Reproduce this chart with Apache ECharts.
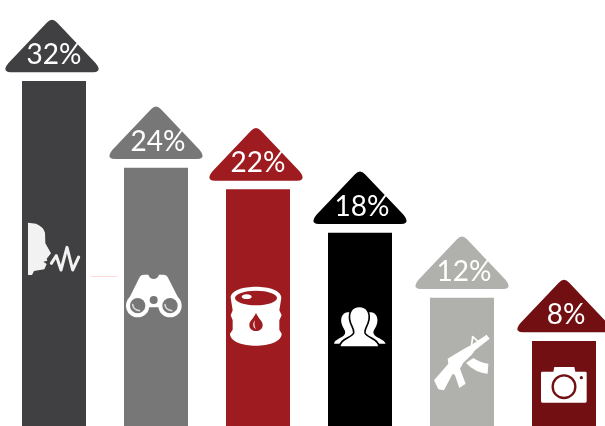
<!DOCTYPE html>
<html>
<head>
<meta charset="utf-8">
<style>html,body{margin:0;padding:0;background:#fff}#chart{width:605px;height:426px}</style>
<script src="https://cdn.jsdelivr.net/npm/echarts@6/dist/echarts.min.js"></script>
</head>
<body>
<div id="chart"></div>
<script>
// Share of each concern, in percent
const categories = ['Speech', 'Surveillance', 'Oil', 'People', 'Weapons', 'Media'];
const shares = [32, 24, 22, 18, 12, 8];
const barColors = ['#404042', '#777777', '#9e1b20', '#000000', '#b0b0ac', '#720f12'];

const WHITE = '#ffffff';
const capPath = 'M-5,-58.5 Q0,-64 5,-58.5 L43.5,-18 Q48,-12.5 46,-10.2 Q44.5,-8.7 41,-8.7 L-41,-8.7 Q-44.5,-8.7 -46,-10.2 Q-48,-12.5 -43.5,-18 Z';

function fillPath(d, fill) { return { type: 'path', shape: { pathData: d }, style: { fill: fill } }; }
function strokePath(d, stroke, w) {
  return { type: 'path', shape: { pathData: d }, style: { fill: 'none', stroke: stroke, lineWidth: w, lineJoin: 'round', lineCap: 'round' } };
}
function disc(cx, cy, r, fill) { return { type: 'circle', shape: { cx: cx, cy: cy, r: r }, style: { fill: fill } }; }
function oval(cx, cy, rx, ry, fill) { return { type: 'ellipse', shape: { cx: cx, cy: cy, rx: rx, ry: ry }, style: { fill: fill } }; }

// Pictograms are authored at 3x and placed relative to the top centre of their bar
const icons = [
  { dx: -44, dy: 129, draw: () => [
    fillPath('M54,38 L78,41 Q100,50 105,68 L106,100 L123,130 L110,146 L112,152 L100,155 L110,162 L103,178 L72,183 L66,195 L54,195 Z', '#f2f2f2'),
    strokePath('M124,160 L139,137 L153,180 L171,112 L188,180 L206,141', '#f2f2f2', 9)
  ]},
  { dx: -146, dy: 43, draw: (c) => [
    fillPath('M350,278 L388,201 Q392,192 402,192 L415,192 Q420,205 431,205 Q442,205 447,192 L460,192 Q470,192 474,201 L513,278 L447,290 L415,290 Z', WHITE),
    disc(383, 285, 35, WHITE), disc(480, 285, 35, WHITE),
    disc(383, 285, 23, c), disc(480, 285, 23, c),
    strokePath('M368,282 Q370,298 388,300', '#d8d8d8', 5),
    strokePath('M465,282 Q467,298 485,300', '#d8d8d8', 5),
    disc(431, 268, 12, c)
  ]},
  { dx: -48, dy: 81, draw: (c) => [
    fillPath('M62,82 C62,38 214,38 214,82 L208,120 L215,135 L208,150 L208,178 L215,190 C215,238 60,238 60,190 L68,178 L68,150 L62,135 L68,120 Z', WHITE),
    oval(138, 83, 63, 22, c), oval(110, 79, 15, 7, WHITE),
    fillPath('M138,128 C146,146 158,152 158,164 C158,188 118,188 118,164 C118,152 130,146 138,128 Z', c),
    fillPath('M134,150 C128,160 128,172 138,176 C132,168 133,160 134,150 Z', WHITE)
  ]},
  { dx: -150, dy: 37, draw: (c) => [
    fillPath('M412,128 C395,130 390,150 396,165 C400,178 408,182 405,192 C400,205 373,208 372,222 L440,222 L440,128 Z', WHITE),
    fillPath('M484,128 C501,130 506,150 500,165 C496,178 488,182 491,192 C496,205 523,208 527,222 L456,222 L456,128 Z', WHITE),
    { type: 'path', shape: { pathData: 'M448,110 C472,110 480,130 477,150 C474,170 462,178 465,190 C472,205 507,208 507,232 L389,232 C389,208 424,205 431,190 C434,178 422,170 419,150 C416,130 424,110 448,110 Z' }, style: { fill: WHITE, stroke: c, lineWidth: 5 } }
  ]},
  { dx: -42, dy: 21, draw: (c) => [
    fillPath('M200,48 L209,60 L165,95 L155,108 L130,132 L120,150 L137,195 L118,208 L105,170 L98,165 L72,215 L55,212 L42,185 L85,135 L83,120 L130,92 L155,78 Z', WHITE),
    fillPath('M138,133 L160,118 Q180,132 205,135 L203,165 Q165,162 138,133 Z', WHITE),
    strokePath('M155,78 L158,54 L176,70', WHITE, 5)
  ]},
  { dx: -144, dy: -21, draw: (c) => [
    fillPath('M400,155 L403,141 L463,141 L466,155 L496,155 Q500,155 500,159 L500,244 Q500,248 496,248 L367,248 Q363,248 363,244 L363,159 Q363,155 367,155 Z', WHITE),
    { type: 'circle', shape: { cx: 432, cy: 200, r: 34 }, style: { fill: WHITE, stroke: c, lineWidth: 7 } },
    disc(484, 173, 5, c)
  ]}
];

// Small shifts of the caps that sit slightly left of their bars
const capShift = [-2, 0, -2, 0, 0, 0];

function renderCap(params, api) {
  const i = api.value(0);
  const v = api.value(1);
  const top = api.coord([i, v]);
  const color = barColors[i];
  const icon = icons[i];
  return {
    type: 'group',
    children: [
      {
        type: 'group', x: top[0] + capShift[i], y: top[1],
        children: [
          { type: 'path', shape: { pathData: capPath }, style: { fill: color } },
          { type: 'text', x: 2, y: -26, style: {
            text: v + '%', fill: WHITE, font: '400 28px Lato, "Open Sans", sans-serif',
            textAlign: 'center', textVerticalAlign: 'middle'
          } }
        ]
      },
      {
        type: 'group', x: top[0] + icon.dx, y: top[1] + icon.dy, scaleX: 1 / 3, scaleY: 1 / 3,
        children: icon.draw(color)
      }
    ]
  };
}

const chart = echarts.init(document.getElementById('chart'), null, { renderer: 'canvas' });
chart.setOption({
  animation: false,
  backgroundColor: '#ffffff',
  grid: { left: 3, top: 81, width: 612, height: 346.7, outerBoundsMode: 'none' },
  xAxis: { type: 'category', data: categories, show: false },
  yAxis: { type: 'value', min: 0, max: 32, show: false },
  tooltip: { show: false },
  series: [
    {
      type: 'bar',
      barWidth: 64,
      silent: true,
      data: shares.map((v, i) => ({ value: v, itemStyle: { color: barColors[i] } }))
    },
    {
      type: 'custom',
      clip: false,
      silent: true,
      z: 5,
      encode: { x: 0, y: 1 },
      renderItem: renderCap,
      data: shares.map((v, i) => [i, v])
    }
  ],
  graphic: [{
    type: 'line', silent: true,
    shape: { x1: 91, y1: 276.5, x2: 117, y2: 276.5 },
    style: { stroke: '#fbd9d2', lineWidth: 1 }
  }]
});
</script>
</body>
</html>
